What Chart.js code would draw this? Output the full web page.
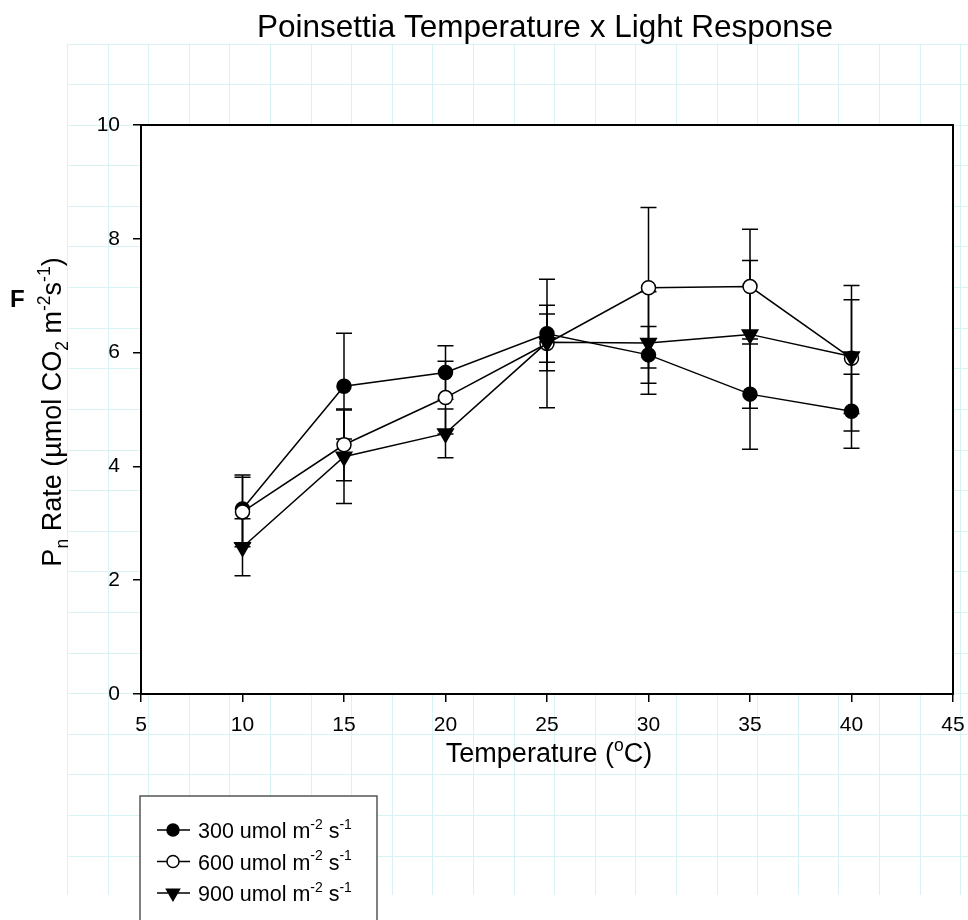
<!DOCTYPE html>
<html>
<head>
<meta charset="utf-8">
<title>Poinsettia Temperature x Light Response</title>
<script src="https://cdn.jsdelivr.net/npm/chart.js@4.4.1/dist/chart.umd.min.js"></script>
<style>
  html, body { margin: 0; padding: 0; background: #fff; }
  canvas { display: block; }
</style>
</head>
<body>
<canvas id="chart" width="968" height="920"></canvas>
<script>
// temperatures (deg C) and mean Pn rate for each light level, with error bar half-widths
const temps = [10, 15, 20, 25, 30, 35, 40];
const rate300 = [3.25, 5.41, 5.65, 6.33, 5.96, 5.27, 4.97];
const err300 = [0.60, 0.93, 0.47, 0.50, 0.50, 0.97, 0.65];
const rate600 = [3.20, 4.38, 5.21, 6.16, 7.14, 7.16, 5.90];
const err600 = [0.61, 0.63, 0.64, 1.13, 1.41, 1.01, 1.28];
const rate900 = [2.58, 4.17, 4.58, 6.18, 6.17, 6.32, 5.93];
const err900 = [0.50, 0.82, 0.43, 0.50, 0.90, 1.30, 1.00];
const xTicks = [5, 10, 15, 20, 25, 30, 35, 40, 45];
const yTicks = [0, 2, 4, 6, 8, 10];

const FONT = '"Liberation Sans", Arial, sans-serif';

function pts(vals) {
  return temps.map((t, i) => ({ x: t, y: vals[i] }));
}

// draw text with sub/superscripts; parts = [[text, mode]], mode 1 = sup, -1 = sub
function richWidth(ctx, parts, size) {
  let w = 0;
  parts.forEach(([t, m]) => {
    ctx.font = (m ? size * 0.65 : size) + 'px ' + FONT;
    w += ctx.measureText(t).width;
  });
  return w;
}
function drawRich(ctx, parts, x, y, size) {
  let cx = x;
  parts.forEach(([t, m]) => {
    const s = m ? size * 0.65 : size;
    ctx.font = s + 'px ' + FONT;
    const dy = m === 1 ? -size * 0.42 : m === -1 ? size * 0.25 : 0;
    ctx.fillText(t, cx, y + dy);
    cx += ctx.measureText(t).width;
  });
}

const paper = {
  id: 'paper',
  beforeDraw(chart) {
    const ctx = chart.ctx;
    const a = chart.chartArea;
    ctx.save();
    ctx.fillStyle = '#fff';
    ctx.fillRect(0, 0, chart.width, chart.height);
    ctx.strokeStyle = '#d9f3f4';
    ctx.lineWidth = 1;
    const step = 40.6, x0 = 67, y0 = 43.5, y1 = 895;
    ctx.beginPath();
    for (let x = x0; x <= chart.width; x += step) {
      ctx.moveTo(Math.round(x) + 0.5, y0);
      ctx.lineTo(Math.round(x) + 0.5, y1);
    }
    for (let y = y0; y <= y1 + 1; y += step) {
      ctx.moveTo(x0, Math.round(y) + 0.5);
      ctx.lineTo(chart.width, Math.round(y) + 0.5);
    }
    ctx.stroke();
    ctx.fillStyle = '#fff';
    ctx.fillRect(a.left, a.top, a.right - a.left, a.bottom - a.top);
    ctx.restore();
  }
};

const errorBars = {
  id: 'errorBars',
  beforeDatasetsDraw(chart) {
    const ctx = chart.ctx;
    const xs = chart.scales.x, ys = chart.scales.y;
    ctx.save();
    ctx.strokeStyle = '#000';
    ctx.lineWidth = 1.5;
    chart.data.datasets.forEach(ds => {
      ds.data.forEach((p, i) => {
        const px = xs.getPixelForValue(p.x);
        const top = ys.getPixelForValue(p.y + ds.err[i]);
        const bot = ys.getPixelForValue(p.y - ds.err[i]);
        ctx.beginPath();
        ctx.moveTo(px, top); ctx.lineTo(px, bot);
        ctx.moveTo(px - 8, top); ctx.lineTo(px + 8, top);
        ctx.moveTo(px - 8, bot); ctx.lineTo(px + 8, bot);
        ctx.stroke();
      });
    });
    ctx.restore();
  }
};

const labels = {
  id: 'labels',
  afterDraw(chart) {
    const ctx = chart.ctx;
    const a = chart.chartArea;
    ctx.save();
    // frame
    ctx.strokeStyle = '#000';
    ctx.lineWidth = 2;
    ctx.strokeRect(a.left, a.top, a.right - a.left, a.bottom - a.top);

    ctx.fillStyle = '#000';
    ctx.textBaseline = 'alphabetic';
    ctx.textAlign = 'left';

    // title
    ctx.font = '31.5px ' + FONT;
    const title = 'Poinsettia Temperature x Light Response';
    ctx.fillText(title, 545 - ctx.measureText(title).width / 2, 37);

    // panel letter
    ctx.font = 'bold 24px ' + FONT;
    ctx.fillText('F', 10, 307);

    // x axis title
    const xt = [['Temperature (', 0], ['o', 1], ['C)', 0]];
    drawRich(ctx, xt, 549 - richWidth(ctx, xt, 27) / 2, 762, 27);

    // y axis title
    const yt = [['P', 0], ['n', -1], [' Rate (\u00b5mol CO', 0], ['2', -1], [' m', 0], ['-2', 1], ['s', 0], ['-1', 1], [')', 0]];
    ctx.save();
    ctx.translate(61, 412);
    ctx.rotate(-Math.PI / 2);
    drawRich(ctx, yt, -richWidth(ctx, yt, 27) / 2, 0, 27);
    ctx.restore();

    // legend
    ctx.fillStyle = '#fff';
    ctx.fillRect(140, 796, 237, 130);
    ctx.strokeStyle = '#555';
    ctx.lineWidth = 1.5;
    ctx.strokeRect(140, 796, 237, 130);
    chart.data.datasets.forEach((ds, i) => {
      const ry = 830 + i * 31.5;
      ctx.strokeStyle = '#000';
      ctx.lineWidth = 1.5;
      ctx.beginPath();
      ctx.moveTo(157, ry); ctx.lineTo(190, ry);
      ctx.stroke();
      ctx.fillStyle = ds.pointBackgroundColor;
      Chart.helpers.drawPoint(ctx, {
        pointStyle: ds.pointStyle,
        radius: ds.pointStyle === 'triangle' ? 7.5 : 6,
        rotation: ds.pointRotation || 0,
        borderWidth: 1.5
      }, 173, ry);
      ctx.fillStyle = '#000';
      ctx.textBaseline = 'alphabetic';
      drawRich(ctx, [[ds.label + ' umol m', 0], ['-2', 1], [' s', 0], ['-1', 1]], 198, ry + 8, 21.5);
    });
    ctx.restore();
  }
};

const tickFont = { family: FONT, size: 21 };

new Chart(document.getElementById('chart'), {
  type: 'line',
  data: {
    datasets: [
      {
        label: '300',
        data: pts(rate300),
        err: err300,
        order: 3,
        borderColor: '#000',
        borderWidth: 1.5,
        pointStyle: 'circle',
        pointRadius: 7,
        pointBackgroundColor: '#000',
        pointBorderColor: '#000',
        pointBorderWidth: 1.5
      },
      {
        label: '600',
        data: pts(rate600),
        err: err600,
        order: 2,
        borderColor: '#000',
        borderWidth: 1.5,
        pointStyle: 'circle',
        pointRadius: 7,
        pointBackgroundColor: '#fff',
        pointBorderColor: '#000',
        pointBorderWidth: 1.5
      },
      {
        label: '900',
        data: pts(rate900),
        err: err900,
        order: 1,
        borderColor: '#000',
        borderWidth: 1.5,
        pointStyle: 'triangle',
        pointRotation: 180,
        pointRadius: 9,
        pointBackgroundColor: '#000',
        pointBorderColor: '#000',
        pointBorderWidth: 1.5
      }
    ]
  },
  options: {
    responsive: false,
    animation: false,
    devicePixelRatio: 1,
    layout: { padding: { top: 125, right: 15, left: 0, bottom: 0 } },
    plugins: {
      legend: { display: false },
      title: { display: false },
      tooltip: { enabled: false }
    },
    elements: { line: { tension: 0 } },
    scales: {
      x: {
        type: 'linear',
        min: 5,
        max: 45,
        afterBuildTicks: s => { s.ticks = xTicks.map(v => ({ value: v })); },
        afterFit: s => { s.height = 226; s.paddingLeft = 0; s.paddingRight = 0; },
        grid: { drawOnChartArea: false, tickLength: 8, color: '#000', lineWidth: 1.5 },
        border: { display: true, color: '#000', width: 2 },
        ticks: { color: '#000', font: tickFont, padding: 11, maxRotation: 0 }
      },
      y: {
        min: 0,
        max: 10,
        afterBuildTicks: s => { s.ticks = yTicks.map(v => ({ value: v })); },
        afterFit: s => { s.width = 141; s.paddingTop = 0; s.paddingBottom = 0; },
        grid: { drawOnChartArea: false, tickLength: 8, color: '#000', lineWidth: 1.5 },
        border: { display: true, color: '#000', width: 2 },
        ticks: { color: '#000', font: tickFont, padding: 13 }
      }
    }
  },
  plugins: [paper, errorBars, labels]
});
</script>
</body>
</html>
